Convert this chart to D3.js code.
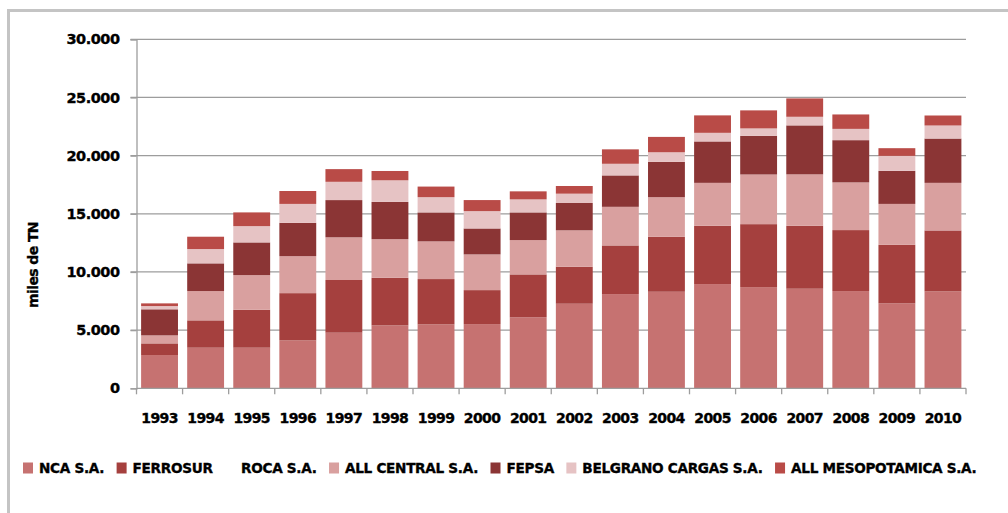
<!DOCTYPE html>
<html>
<head>
<meta charset="utf-8">
<script src="https://cdn.jsdelivr.net/npm/d3@7"></script>
<style>
  body { margin: 0; background: #fff; }
  svg { display: block; font-family: "DejaVu Sans", sans-serif; font-weight: bold; }
  text { stroke: #000; stroke-width: 0.35px; }
</style>
</head>
<body>
<div id="chart-area"></div>
<script>
// data: thousands of tonnes per operator and year
const years = ['1993','1994','1995','1996','1997','1998','1999','2000','2001','2002',
               '2003','2004','2005','2006','2007','2008','2009','2010'];
const seriesNames = ['NCA S.A.', 'FERROSUR', 'ROCA S.A.', 'ALL CENTRAL S.A.', 'FEPSA',
                     'BELGRANO CARGAS S.A.', 'ALL MESOPOTAMICA S.A.'];
const nca        = [2860,3490,3490,4120,4780,5410,5500,5520,6100,7270,8100,8300,8960,8700,8560,8360,7300,8330];
const ferrosur   = [1000,2350,3260,4060,4530,4090,3890,2920,3690,3180,4180,4720,5010,5410,5410,5240,5030,5240];
const roca       = [0,0,0,0,0,0,0,0,0,0,0,0,0,0,0,0,0,0];
const allCentral = [690,2520,2980,3180,3670,3320,3240,3070,2950,3130,3320,3410,3690,4270,4420,4100,3520,4090];
const fepsa      = [2240,2380,2810,2860,3200,3200,2490,2230,2380,2350,2700,3030,3560,3320,4210,3630,2840,3810];
const belgrano   = [280,1230,1400,1630,1570,1860,1310,1490,1120,800,1000,830,740,640,740,970,1290,1120];
const allMeso    = [230,1060,1180,1110,1090,800,910,950,690,660,1240,1320,1500,1550,1580,1240,660,860];
const yTicks = [0, 5000, 10000, 15000, 20000, 25000, 30000];

const colors = ['#c67271', '#a5403e', '#ffffff', '#d9a09f', '#8b3535', '#e6c3c4', '#b94b47'];

const allSeries = [nca, ferrosur, roca, allCentral, fepsa, belgrano, allMeso];
const table = years.map((yr, i) => {
  const row = { year: yr };
  seriesNames.forEach((s, k) => row[s] = allSeries[k][i]);
  return row;
});

const svgW = 1008, svgH = 513;
const plot = { left: 136.5, right: 966, top: 39.3, bottom: 388.3 };

const svg = d3.select('#chart-area').append('svg')
  .attr('width', svgW)
  .attr('height', svgH);

// outer frame
svg.append('rect')
  .attr('x', 8.5).attr('y', 10.5)
  .attr('width', 1100).attr('height', 600)
  .attr('fill', 'none')
  .attr('stroke', '#c4c4c4')
  .attr('stroke-width', 3);

const x = d3.scaleBand()
  .domain(years)
  .range([plot.left, plot.right])
  .paddingInner(0.2)
  .paddingOuter(0.1);

const y = d3.scaleLinear()
  .domain([0, 30000])
  .range([plot.bottom, plot.top]);

const fmt = d3.formatLocale({ decimal: ',', thousands: '.', grouping: [3], currency: ['', ''] }).format(',');

// gridlines
svg.append('g')
  .selectAll('line')
  .data(yTicks.filter(d => d > 0))
  .join('line')
    .attr('x1', plot.left - 6).attr('x2', plot.right)
    .attr('y1', d => y(d)).attr('y2', d => y(d))
    .attr('stroke', '#9d9d9d')
    .attr('stroke-width', 1.3);

// y axis
const yAxis = svg.append('g')
  .attr('transform', `translate(${plot.left},0)`)
  .call(d3.axisLeft(y).tickValues(yTicks).tickFormat(fmt).tickSize(6).tickPadding(11));
yAxis.select('.domain').attr('stroke', '#9d9d9d').attr('stroke-width', 1.3);
yAxis.selectAll('.tick line').attr('stroke', '#9d9d9d').attr('stroke-width', 1.3);
yAxis.selectAll('.tick text')
  .attr('fill', '#000')
  .attr('font-size', 14.5)
  .attr('font-weight', 'bold')
  .attr('font-family', '"DejaVu Sans", sans-serif')
  .attr('letter-spacing', -0.5);

svg.append('text')
  .attr('transform', 'translate(38,265) rotate(-90)')
  .attr('text-anchor', 'middle')
  .attr('font-size', 14)
  .attr('letter-spacing', -0.6)
  .text('miles de TN');

// stacked bars
const stack = d3.stack().keys(seriesNames)(table);

svg.append('g')
  .selectAll('g')
  .data(stack)
  .join('g')
    .attr('fill', (d, i) => colors[i])
  .selectAll('rect')
  .data(d => d)
  .join('rect')
    .attr('x', d => x(d.data.year))
    .attr('width', x.bandwidth())
    .attr('y', d => y(d[1]))
    .attr('height', d => y(d[0]) - y(d[1]));

// x axis
const step = x.step();
const xg = svg.append('g');
xg.append('line')
  .attr('x1', plot.left).attr('x2', plot.right)
  .attr('y1', plot.bottom).attr('y2', plot.bottom)
  .attr('stroke', '#9d9d9d').attr('stroke-width', 1.3);
xg.selectAll('.xt')
  .data(years.concat(['end']))
  .join('line')
    .attr('class', 'xt')
    .attr('x1', (d, i) => plot.left + i * step)
    .attr('x2', (d, i) => plot.left + i * step)
    .attr('y1', plot.bottom).attr('y2', plot.bottom + 6)
    .attr('stroke', '#9d9d9d').attr('stroke-width', 1.3);
xg.selectAll('.xl')
  .data(years)
  .join('text')
    .attr('class', 'xl')
    .attr('x', d => x(d) + x.bandwidth() / 2)
    .attr('y', 423)
    .attr('text-anchor', 'middle')
    .attr('font-size', 14)
    .attr('letter-spacing', -0.6)
    .text(d => d);

// legend
const legend = svg.append('g').attr('transform', 'translate(23,468)');
let lx = 0;
seriesNames.forEach((name, i) => {
  const item = legend.append('g').attr('transform', `translate(${lx},0)`);
  item.append('rect')
    .attr('x', 0).attr('y', -5.5)
    .attr('width', 10).attr('height', 11)
    .attr('fill', colors[i]);
  const t = item.append('text')
    .attr('x', 16)
    .attr('y', 5)
    .attr('font-size', 13.6)
    .attr('letter-spacing', -0.3)
    .text(name);
  lx += 16 + t.node().getComputedTextLength() + 12.5;
});
</script>
</body>
</html>
